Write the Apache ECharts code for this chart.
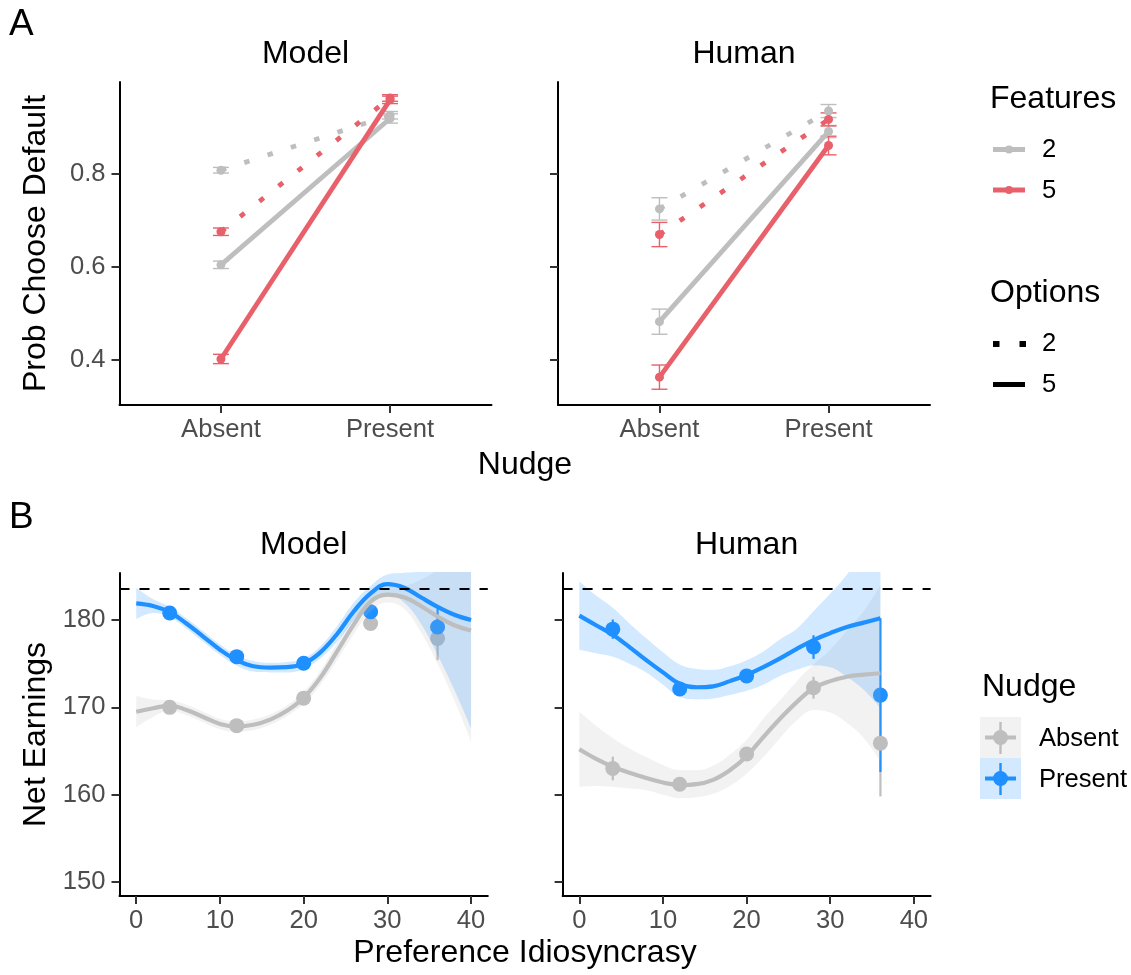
<!DOCTYPE html>
<html lang="en">
<head>
<meta charset="UTF-8">
<title>Nudge effects</title>
<script src="https://cdn.jsdelivr.net/npm/echarts@6/dist/echarts.min.js"></script>
<style>
  html, body { margin: 0; padding: 0; background: #fff; }
  #chart { width: 1131px; height: 975px; }
</style>
</head>
<body>
<div id="chart"></div>
<script>
// ---------- panel A : probability of choosing the default ----------
var nudgeCats = ['Absent', 'Present'];
var probTicks = [0.4, 0.6, 0.8];

// Features x Options, value at Absent / Present, and error half-width
var modelF2O2 = [0.807, 0.925], modelF2O2Se = [0.006, 0.008];
var modelF2O5 = [0.604, 0.918], modelF2O5Se = [0.008, 0.010];
var modelF5O2 = [0.675, 0.962], modelF5O2Se = [0.008, 0.007];
var modelF5O5 = [0.402, 0.958], modelF5O5Se = [0.010, 0.008];

var humanF2O2 = [0.724, 0.934], humanF2O2Se = [0.024, 0.014];
var humanF2O5 = [0.482, 0.890], humanF2O5Se = [0.027, 0.013];
var humanF5O2 = [0.669, 0.916], humanF5O2Se = [0.026, 0.014];
var humanF5O5 = [0.363, 0.860], humanF5O5Se = [0.026, 0.020];

// ---------- panel B : net earnings vs preference idiosyncrasy ----------
var idioTicks = [0, 10, 20, 30, 40];
var earnTicks = [150, 160, 170, 180];
var refEarnings = 183.6;

var idioX = [0, 2, 4, 6, 8, 10, 12, 14, 16, 18, 20, 22, 24, 26, 28, 30, 32, 34, 36, 38, 40];
var humanX = [0, 2, 4, 6, 8, 10, 12, 14, 16, 18, 20, 22, 24, 26, 28, 30, 32, 34, 36];

var modelAbsentFit = [169.5, 169.9, 170.2, 169.7, 168.9, 168.1, 167.8, 168.0, 168.6, 169.6, 171.1, 173.4, 176.4, 179.5, 182.1, 182.9, 182.6, 181.6, 180.4, 179.4, 178.8];
var modelAbsentLo = [167.7, 168.9, 169.6, 169.1, 168.3, 167.5, 167.2, 167.4, 168.0, 169.0, 170.4, 172.6, 175.4, 178.4, 181.0, 182.0, 181.3, 178.6, 175.0, 170.8, 166.1];
var modelAbsentHi = [171.3, 170.9, 170.8, 170.3, 169.5, 168.7, 168.4, 168.6, 169.2, 170.2, 171.8, 174.2, 177.4, 180.6, 183.2, 183.8, 183.9, 184.6, 185.8, 188.0, 191.5];

var modelPresentFit = [181.9, 181.6, 180.9, 179.6, 178.1, 176.6, 175.4, 174.7, 174.55, 174.6, 175.0, 176.3, 178.4, 181.0, 183.05, 184.1, 183.7, 182.6, 181.5, 180.6, 180.0];
var modelPresentLo = [180.1, 180.8, 180.3, 179.0, 177.5, 176.0, 174.8, 174.1, 174.0, 174.0, 174.4, 175.6, 177.5, 180.0, 182.3, 183.0, 182.0, 179.6, 176.0, 172.0, 167.6];
var modelPresentHi = [183.7, 182.4, 181.5, 180.2, 178.7, 177.2, 176.0, 175.3, 175.1, 175.2, 175.6, 177.0, 179.3, 182.0, 183.9, 185.2, 185.4, 185.6, 187.0, 189.2, 192.4];

var humanAbsentFit = [165.2, 164.1, 163.2, 162.5, 161.9, 161.4, 161.1, 161.2, 161.7, 162.8, 164.4, 166.6, 168.7, 170.6, 172.2, 173.0, 173.5, 173.75, 173.9];
var humanAbsentLo = [160.9, 161.0, 160.9, 160.7, 160.5, 160.0, 159.6, 159.7, 160.1, 161.0, 162.4, 164.3, 166.5, 168.5, 169.7, 169.4, 168.2, 166.5, 163.8];
var humanAbsentHi = [169.5, 167.9, 166.5, 165.3, 164.3, 163.4, 162.8, 162.8, 163.3, 164.6, 166.3, 168.7, 170.8, 173.0, 174.9, 176.6, 178.8, 181.0, 184.0];

var humanPresentFit = [180.5, 179.4, 178.3, 176.9, 175.4, 174.0, 172.7, 172.3, 172.4, 173.0, 173.7, 174.6, 175.6, 176.7, 177.7, 178.5, 179.2, 179.7, 180.2];
var humanPresentLo = [176.6, 176.2, 175.8, 175.0, 174.0, 172.6, 171.2, 170.9, 171.0, 171.4, 171.9, 172.6, 173.6, 174.3, 174.8, 174.6, 173.5, 172.0, 169.9];
var humanPresentHi = [184.4, 182.8, 181.4, 179.6, 177.9, 176.3, 174.9, 174.4, 174.3, 174.7, 175.4, 176.4, 177.8, 179.0, 181.0, 183.0, 185.2, 188.0, 191.0];

var pointX = [4, 12, 20, 28, 36];
var modelAbsentPts = [170.0, 167.9, 171.05, 179.6, 177.9], modelAbsentSe = [0.3, 0.3, 0.3, 0.4, 2.5];
var modelPresentPts = [180.8, 175.8, 175.05, 180.95, 179.2], modelPresentSe = [0.3, 0.3, 0.3, 0.4, 2.1];
var humanAbsentPts = [163.0, 161.2, 164.65, 172.25, 165.9], humanAbsentSe = [1.35, 0.4, 0.4, 1.25, 6.1];
var humanPresentPts = [178.95, 172.1, 173.6, 176.9, 171.4], humanPresentSe = [1.1, 0.4, 0.4, 1.35, 8.8];

// ---------- styling ----------
var FONT = '"Liberation Sans", Arial, sans-serif';
var GRAY = '#BEBEBE', RED = '#E8606A', BLUE = '#1E90FF';
var GRAY_BAND = 'rgba(190,190,190,0.2)', BLUE_BAND = 'rgba(30,144,255,0.2)';
var DOTTED = [5.5, 19];
var TICK_FS = 25.6, TITLE_FS = 32;

var chart = echarts.init(document.getElementById('chart'));

function xAxisCfg(grid, min, max, ticks, fmt) {
    return {
        gridIndex: grid, type: 'value', min: min, max: max,
        axisLine: { show: true, onZero: false, lineStyle: { color: '#000', width: 2 } },
        axisTick: { show: true, customValues: ticks, length: 8, lineStyle: { color: '#333', width: 2 } },
        axisLabel: { customValues: ticks, formatter: fmt, color: '#4D4D4D', fontSize: TICK_FS, fontFamily: FONT, margin: 12 },
        splitLine: { show: false }
    };
}

function yAxisCfg(grid, min, max, ticks, fmt, showLabel) {
    return {
        gridIndex: grid, type: 'value', min: min, max: max,
        axisLine: { show: true, onZero: false, lineStyle: { color: '#000', width: 2 } },
        axisTick: { show: true, customValues: ticks, length: 8, lineStyle: { color: '#333', width: 2 } },
        axisLabel: { show: showLabel, customValues: ticks, formatter: fmt, color: '#4D4D4D', fontSize: TICK_FS, fontFamily: FONT, margin: 14 },
        splitLine: { show: false }
    };
}

var series = [];

// error bar with caps (panel A) or plain range (panel B)
function rangeRender(color, width, cap) {
    return function (params, api) {
        var lo = api.coord([api.value(0), api.value(1)]);
        var hi = api.coord([api.value(0), api.value(2)]);
        var st = { stroke: color, lineWidth: width };
        var kids = [{ type: 'line', shape: { x1: lo[0], y1: lo[1], x2: hi[0], y2: hi[1] }, style: st }];
        if (cap) {
            kids.push({ type: 'line', shape: { x1: lo[0] - cap, y1: lo[1], x2: lo[0] + cap, y2: lo[1] }, style: st });
            kids.push({ type: 'line', shape: { x1: hi[0] - cap, y1: hi[1], x2: hi[0] + cap, y2: hi[1] }, style: st });
        }
        return { type: 'group', children: kids };
    };
}

function addProb(grid, vals, se, color, dash) {
    series.push({
        type: 'custom', xAxisIndex: grid, yAxisIndex: grid, silent: true,
        data: vals.map(function (v, i) { return [i + 1, v - se[i], v + se[i]]; }),
        renderItem: rangeRender(color, 1.4, 8)
    });
    series.push({
        type: 'line', xAxisIndex: grid, yAxisIndex: grid, silent: true,
        data: vals.map(function (v, i) { return [i + 1, v]; }),
        symbol: 'circle', symbolSize: 9, itemStyle: { color: color },
        lineStyle: { color: color, width: 4.8, type: dash, cap: 'butt' }
    });
}

addProb(0, modelF2O2, modelF2O2Se, GRAY, DOTTED);
addProb(0, modelF2O5, modelF2O5Se, GRAY, 'solid');
addProb(0, modelF5O2, modelF5O2Se, RED, DOTTED);
addProb(0, modelF5O5, modelF5O5Se, RED, 'solid');
addProb(1, humanF2O2, humanF2O2Se, GRAY, DOTTED);
addProb(1, humanF2O5, humanF2O5Se, GRAY, 'solid');
addProb(1, humanF5O2, humanF5O2Se, RED, DOTTED);
addProb(1, humanF5O5, humanF5O5Se, RED, 'solid');

// ribbon = invisible lower line + stacked (hi - lo) area. Rows are [y, x] so that
// ECharts stacks the y dimension on these value/value axes.
function addSmooth(grid, xs, fit, lo, hi, color, fill, id, ref) {
    series.push({
        type: 'line', xAxisIndex: grid, yAxisIndex: grid, stack: id, silent: true,
        encode: { x: 1, y: 0 },
        data: xs.map(function (x, i) { return [lo[i], x]; }),
        symbol: 'none', smooth: 0.4, lineStyle: { opacity: 0 }
    });
    series.push({
        type: 'line', xAxisIndex: grid, yAxisIndex: grid, stack: id, silent: true,
        encode: { x: 1, y: 0 },
        data: xs.map(function (x, i) { return [hi[i] - lo[i], x]; }),
        symbol: 'none', smooth: 0.4, lineStyle: { opacity: 0 }, areaStyle: { color: fill, opacity: 1 }
    });
    var fitLine = {
        type: 'line', xAxisIndex: grid, yAxisIndex: grid, silent: true,
        data: xs.map(function (x, i) { return [x, fit[i]]; }),
        symbol: 'none', smooth: 0.4, lineStyle: { color: color, width: 4.2 }
    };
    if (ref) {
        fitLine.markLine = {
            silent: true, symbol: ['none', 'none'], label: { show: false },
            lineStyle: { color: '#000', width: 2, type: [10, 10] },
            data: [{ yAxis: refEarnings }]
        };
    }
    series.push(fitLine);
}

function addRange(grid, vals, se, color) {
    series.push({
        type: 'custom', xAxisIndex: grid, yAxisIndex: grid, silent: true,
        data: vals.map(function (v, i) { return [pointX[i], v - se[i], v + se[i]]; }),
        renderItem: rangeRender(color, 2.2, 0)
    });
}

function addPoints(grid, vals, color) {
    series.push({
        type: 'scatter', xAxisIndex: grid, yAxisIndex: grid, silent: true,
        data: vals.map(function (v, i) { return [pointX[i], v]; }),
        symbolSize: 15, itemStyle: { color: color, opacity: 1 }
    });
}

addSmooth(2, idioX, modelAbsentFit, modelAbsentLo, modelAbsentHi, GRAY, GRAY_BAND, 'mA', false);
addSmooth(2, idioX, modelPresentFit, modelPresentLo, modelPresentHi, BLUE, BLUE_BAND, 'mP', true);
addRange(2, modelAbsentPts, modelAbsentSe, GRAY);
addRange(2, modelPresentPts, modelPresentSe, BLUE);
addPoints(2, modelAbsentPts, GRAY);
addPoints(2, modelPresentPts, BLUE);

addSmooth(3, humanX, humanAbsentFit, humanAbsentLo, humanAbsentHi, GRAY, GRAY_BAND, 'hA', false);
addSmooth(3, humanX, humanPresentFit, humanPresentLo, humanPresentHi, BLUE, BLUE_BAND, 'hP', true);
addRange(3, humanAbsentPts, humanAbsentSe, GRAY);
addRange(3, humanPresentPts, humanPresentSe, BLUE);
addPoints(3, humanAbsentPts, GRAY);
addPoints(3, humanPresentPts, BLUE);

// ---------- text and legends ----------
function txt(s, x, y, size, align, rot) {
    return {
        type: 'text', x: x, y: y, rotation: rot || 0, silent: true,
        style: { text: s, x: 0, y: 0, font: size + 'px ' + FONT, fill: '#000', align: align || 'center', verticalAlign: 'middle' }
    };
}
function seg(x1, y1, x2, y2, color, w, dash) {
    return { type: 'line', silent: true, shape: { x1: x1, y1: y1, x2: x2, y2: y2 }, style: { stroke: color, lineWidth: w, lineDash: dash || null } };
}

var fmtCat = function (v) { return nudgeCats[Math.round(v) - 1]; };
var fmtProb = function (v) { return v.toFixed(1); };
var fmtInt = function (v) { return String(v); };

var graphics = [
    txt('A', 9, 25, 37, 'left'),
    txt('B', 9, 518, 37, 'left'),
    txt('Model', 305.5, 54, TITLE_FS),
    txt('Human', 744, 54, TITLE_FS),
    txt('Model', 303.7, 545, TITLE_FS),
    txt('Human', 746.6, 545, TITLE_FS),
    txt('Nudge', 525, 465, TITLE_FS),
    txt('Preference Idiosyncrasy', 525, 953, TITLE_FS),
    txt('Prob Choose Default', 36.5, 243.5, TITLE_FS, 'center', Math.PI / 2),
    txt('Net Earnings', 36.5, 734.5, TITLE_FS, 'center', Math.PI / 2),

    // Features legend
    txt('Features', 990, 99, TITLE_FS, 'left'),
    seg(993, 149.5, 1025, 149.5, GRAY, 5),
    { type: 'circle', silent: true, shape: { cx: 1009, cy: 149.5, r: 4 }, style: { fill: GRAY } },
    txt('2', 1042, 150, TICK_FS, 'left'),
    seg(993, 190, 1025, 190, RED, 5),
    { type: 'circle', silent: true, shape: { cx: 1009, cy: 190, r: 4 }, style: { fill: RED } },
    txt('5', 1042, 190.5, TICK_FS, 'left'),

    // Options legend
    txt('Options', 990, 293.5, TITLE_FS, 'left'),
    seg(993, 344, 1027, 344, '#000', 6, [6.5, 20]),
    txt('2', 1042, 344, TICK_FS, 'left'),
    seg(993, 384.5, 1025, 384.5, '#000', 5),
    txt('5', 1042, 384.5, TICK_FS, 'left'),

    // Nudge legend
    txt('Nudge', 982, 687, TITLE_FS, 'left'),
    { type: 'rect', silent: true, shape: { x: 980, y: 717, width: 41, height: 41 }, style: { fill: GRAY_BAND } },
    seg(985, 737.5, 1016, 737.5, GRAY, 4),
    seg(1000.5, 722, 1000.5, 754, GRAY, 2.4),
    { type: 'circle', silent: true, shape: { cx: 1000.5, cy: 737.5, r: 7.5 }, style: { fill: GRAY } },
    txt('Absent', 1039, 739, TICK_FS, 'left'),
    { type: 'rect', silent: true, shape: { x: 980, y: 758, width: 41, height: 41 }, style: { fill: BLUE_BAND } },
    seg(985, 778.5, 1016, 778.5, BLUE, 4),
    seg(1000.5, 763, 1000.5, 795, BLUE, 2.4),
    { type: 'circle', silent: true, shape: { cx: 1000.5, cy: 778.5, r: 7.5 }, style: { fill: BLUE } },
    txt('Present', 1039, 780, TICK_FS, 'left')
];

chart.setOption({
    animation: false,
    backgroundColor: '#fff',
    grid: [
        { left: 119.5, top: 82, width: 372, height: 323 },
        { left: 558, top: 82, width: 372, height: 323 },
        { left: 119.5, top: 573, width: 368.3, height: 323 },
        { left: 562.6, top: 573, width: 368, height: 323 }
    ],
    xAxis: [
        xAxisCfg(0, 0.4, 2.6, [1, 2], fmtCat),
        xAxisCfg(1, 0.4, 2.6, [1, 2], fmtCat),
        xAxisCfg(2, -2, 42, idioTicks, fmtInt),
        xAxisCfg(3, -2, 42, idioTicks, fmtInt)
    ],
    yAxis: [
        yAxisCfg(0, 0.3032, 0.9963, probTicks, fmtProb, true),
        yAxisCfg(1, 0.3032, 0.9963, probTicks, fmtProb, false),
        yAxisCfg(2, 148.4, 185.38, earnTicks, fmtInt, true),
        yAxisCfg(3, 148.4, 185.38, earnTicks, fmtInt, false)
    ],
    series: series,
    graphic: graphics
});
</script>
</body>
</html>
